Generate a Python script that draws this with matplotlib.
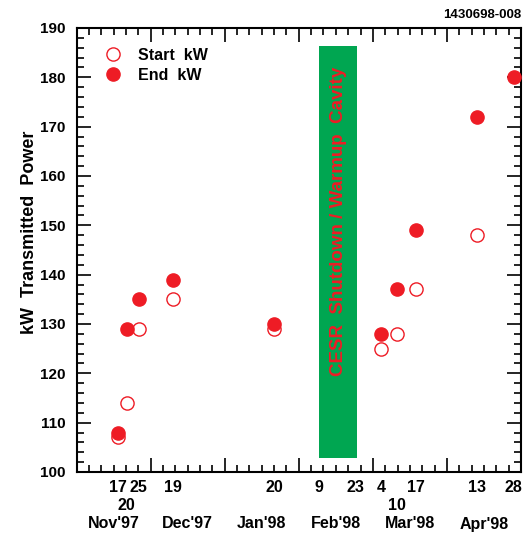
import numpy as np
import matplotlib.pyplot as plt
from matplotlib.ticker import MultipleLocator
import matplotlib.transforms as mtransforms

plt.rcParams['font.family'] = ['Liberation Sans', 'DejaVu Sans']
plt.rcParams['font.weight'] = 'bold'

# x in "days" on a 30-day-per-month axis starting at Nov 1 1997
start_x = [16.6, 20.2, 25.2, 39.0, 80.1, 123.5, 129.7, 137.3, 162.1]
start_kw = [107, 114, 129, 135, 129, 125, 128, 137, 148]
end_x = [16.6, 20.2, 25.2, 39.0, 80.1, 123.5, 129.7, 137.3, 162.1, 177.0]
end_kw = [108, 129, 135, 139, 130, 128, 137, 149, 172, 180]

# day labels under the axis (upper row / lower row)
day_pos_top = [16.6, 25.2, 39.0, 80.1, 98.2, 113.1, 123.5, 137.3, 162.1, 177.0]
day_lab_top = ['17', '25', '19', '20', '9', '23', '4', '17', '13', '28']
day_pos_low = [20.2, 129.7]
day_lab_low = ['20', '10']
months = ["Nov'97", "Dec'97", "Jan'98", "Feb'98", "Mar'98", "Apr'98"]

shutdown = (98.3, 113.7, 102.8, 186.3)  # x0, x1, y0, y1

red = '#ee1c25'
green = '#00a651'

fig = plt.figure(figsize=(5.27, 5.35), dpi=100)
ax = fig.add_axes([0.1455, 0.1178, 0.843, 0.8299])

ax.fill_between([shutdown[0], shutdown[1]], shutdown[2], shutdown[3],
                color=green, lw=0, zorder=1)
ax.text((shutdown[0] + shutdown[1]) / 2, 150.8, 'CESR  Shutdown / Warmup  Cavity',
        rotation=90, color=red, fontsize=13.5, fontweight='bold',
        ha='center', va='center', zorder=2)

ax.plot(start_x, start_kw, 'o', ms=9.5, mfc='white', mec=red, mew=1.0,
        zorder=3, label='Start  kW')
ax.plot(end_x, end_kw, 'o', ms=9.5, mfc=red, mec=red, mew=1.0,
        zorder=4, label='End  kW')

ax.set_xlim(0, 180)
ax.set_ylim(100, 190)
ax.xaxis.set_major_locator(MultipleLocator(30))
ax.xaxis.set_minor_locator(MultipleLocator(5))
ax.yaxis.set_major_locator(MultipleLocator(10))
ax.yaxis.set_minor_locator(MultipleLocator(2))
ax.tick_params(which='both', direction='in', top=True, right=True, width=1.2)
ax.tick_params(which='major', length=10)
ax.tick_params(which='minor', length=5)
ax.tick_params(axis='y', labelsize=11, pad=8)
ax.set_xticklabels([])
for lab in ax.get_yticklabels():
    lab.set_fontweight('bold')
for s in ax.spines.values():
    s.set_linewidth(1.5)

ax.set_ylabel('kW  Transmitted  Power', fontsize=13, fontweight='bold')
ax.yaxis.set_label_coords(-0.087, 0.54)

trans = mtransforms.blended_transform_factory(ax.transData, fig.transFigure)
for p, l in zip(day_pos_top, day_lab_top):
    fig.text(p, 1 - 488 / 535, l, transform=trans, ha='center', va='center',
             fontsize=11.5, fontweight='bold')
for p, l in zip(day_pos_low, day_lab_low):
    fig.text(p, 1 - 506 / 535, l, transform=trans, ha='center', va='center',
             fontsize=11.5, fontweight='bold')
for i, m in enumerate(months):
    fig.text(i * 30 + 15, 1 - 524 / 535, m, transform=trans, ha='center', va='center',
             fontsize=11.5, fontweight='bold')

fig.text(0.99, 1 - 15 / 535, '1430698-008', ha='right', va='center',
         fontsize=9.5, fontweight='bold')

ax.legend(loc='upper left', bbox_to_anchor=(0.02, 0.98), frameon=False,
          handletextpad=0.6, labelspacing=0.3, borderaxespad=0.3,
          prop={'weight': 'bold', 'size': 11.5})

fig.savefig('out.png', dpi=100)
